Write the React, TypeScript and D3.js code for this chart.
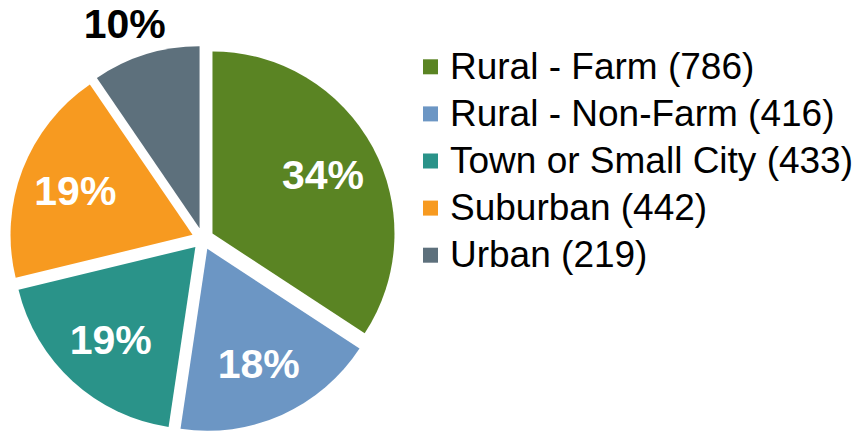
import React from "react";
import * as d3 from "d3";

// data
const categories = ["Rural - Farm", "Rural - Non-Farm", "Town or Small City", "Suburban", "Urban"];
const counts = [786, 416, 433, 442, 219];
const colors = ["#5a8423", "#6c96c4", "#2a9389", "#f79a20", "#5d707c"];
const outsideLabels = ["Urban"];

const width = 862;
const height = 431;
const cx = 202.8;
const cy = 238.8;
const radius = 182;
const explode = 11;
const font = "'Liberation Sans', Arial, sans-serif";

export default function App() {
  const total = d3.sum(counts);
  const pct = d3.format(".0%");

  const pie = d3
    .pie<number>()
    .sort(null)
    .value((d) => d);
  const arcs = pie(counts);

  const arc = d3.arc<d3.PieArcDatum<number>>().innerRadius(0).outerRadius(radius);
  const inLabel = d3
    .arc<d3.PieArcDatum<number>>()
    .innerRadius(radius * 0.69)
    .outerRadius(radius * 0.69);

  const legendY = d3
    .scalePoint<string>()
    .domain(categories)
    .range([0, 47.1 * (categories.length - 1)]);

  return (
    <svg
      width={width}
      height={height}
      style={{ position: "absolute", left: 0, top: 0, background: "#fff" }}
      fontFamily={font}
    >
      <g transform={`translate(${cx},${cy})`}>
        {arcs.map((a, i) => {
          const mid = (a.startAngle + a.endAngle) / 2;
          const ox = Math.sin(mid) * explode;
          const oy = -Math.cos(mid) * explode;
          const outside = outsideLabels.includes(categories[i]);
          // outside label sits a little left of the bisector, like excel's best fit
          const [lx, ly] = outside
            ? d3.pointRadial(mid - 0.05, radius * 1.2)
            : inLabel.centroid(a);
          return (
            <g key={categories[i]} transform={`translate(${ox},${oy})`}>
              <path d={arc(a) || ""} fill={colors[i]} />
              <text
                x={lx}
                y={ly + 41 * 0.358}
                textAnchor="middle"
                fontSize={41}
                fontWeight="bold"
                fill={outside ? "#000" : "#fff"}
              >
                {pct(a.data / total)}
              </text>
            </g>
          );
        })}
      </g>

      <g transform="translate(423,59.3)">
        {categories.map((c, i) => (
          <g key={c} transform={`translate(0,${legendY(c)})`}>
            <rect width={15} height={15} fill={colors[i]} />
            <text x={27} y={19.2} fontSize={37} fill="#000">
              {`${c} (${counts[i]})`}
            </text>
          </g>
        ))}
      </g>
    </svg>
  );
}
